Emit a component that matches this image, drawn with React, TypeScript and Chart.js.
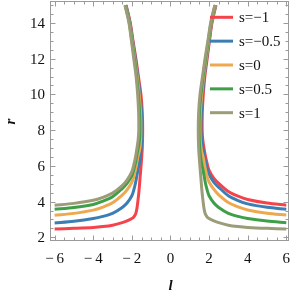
import { useEffect, useRef } from "react";
import { Chart, registerables } from "chart.js";

Chart.register(...registerables);

type P = [number, number];

const seriesLabels = ["s=\u22121", "s=\u22120.5", "s=0", "s=0.5", "s=1"];
const seriesColors = ["#f5434b", "#3b7eb4", "#eea84f", "#3e9f48", "#9c9c78"];

// left branches (l < 0): [l, r]
const leftSm1: P[] = [[-2.30,15],[-2.08,14],[-1.94,13],[-1.79,12],[-1.66,11],[-1.53,10],[-1.46,9],[-1.44,8],[-1.46,7],[-1.51,6.2],[-1.57,5.4],[-1.63,4.6],[-1.69,4.0],[-1.74,3.6],[-1.8,3.32],[-1.9,3.14],[-2.0,3.05],[-2.25,2.92],[-2.5,2.82],[-3,2.68],[-3.5,2.6],[-4,2.55],[-5,2.5],[-6,2.46]];
const leftSm05: P[] = [[-2.31,15],[-2.1,14],[-1.96,13],[-1.82,12],[-1.69,11],[-1.58,10],[-1.5,9],[-1.48,8],[-1.5,7.2],[-1.55,6.6],[-1.62,6.1],[-1.7,5.7],[-1.8,5.1],[-1.9,4.65],[-2.0,4.33],[-2.25,3.92],[-2.5,3.67],[-3,3.34],[-3.5,3.17],[-4,3.05],[-5,2.9],[-6,2.8]];
const leftS0: P[] = [[-2.33,15],[-2.12,14],[-1.98,13],[-1.85,12],[-1.72,11],[-1.62,10],[-1.55,9],[-1.53,8],[-1.56,7.2],[-1.62,6.8],[-1.7,6.45],[-1.8,5.85],[-1.9,5.4],[-2.0,5.08],[-2.25,4.65],[-2.5,4.36],[-3,3.93],[-3.5,3.69],[-4,3.52],[-5,3.34],[-6,3.23]];
const leftS05: P[] = [[-2.34,15],[-2.13,14],[-2.0,13],[-1.87,12],[-1.75,11],[-1.66,10],[-1.6,9],[-1.58,8],[-1.62,7.3],[-1.7,6.85],[-1.8,6.25],[-1.9,5.8],[-2.0,5.45],[-2.25,5.02],[-2.5,4.73],[-3,4.27],[-3.5,4.02],[-4,3.84],[-5,3.67],[-6,3.57]];
const leftS1: P[] = [[-2.36,15],[-2.15,14],[-2.02,13],[-1.9,12],[-1.78,11],[-1.7,10],[-1.65,9],[-1.64,8],[-1.67,7.5],[-1.72,7.1],[-1.8,6.55],[-1.9,6.05],[-2.0,5.68],[-2.25,5.2],[-2.5,4.9],[-3,4.48],[-3.5,4.24],[-4,4.07],[-5,3.9],[-6,3.8]];

// right branches (l > 0): [l, r]
const rightSm1: P[] = [[2.36,15],[2.15,14],[2.02,13],[1.9,12],[1.78,11],[1.7,10],[1.65,9],[1.64,8],[1.67,7.5],[1.72,7.1],[1.8,6.6],[1.9,6.12],[2.0,5.75],[2.25,5.3],[2.5,5.02],[3,4.56],[3.5,4.3],[4,4.12],[5,3.92],[6,3.8]];
const rightSm05: P[] = [[2.34,15],[2.13,14],[2.0,13],[1.87,12],[1.75,11],[1.66,10],[1.6,9],[1.58,8],[1.62,7.3],[1.7,6.88],[1.8,6.3],[1.9,5.86],[2.0,5.52],[2.25,5.08],[2.5,4.8],[3,4.33],[3.5,4.06],[4,3.87],[5,3.68],[6,3.57]];
const rightS0: P[] = [[2.33,15],[2.12,14],[1.98,13],[1.85,12],[1.72,11],[1.62,10],[1.55,9],[1.53,8],[1.56,7.2],[1.62,6.8],[1.7,6.45],[1.8,5.85],[1.9,5.4],[2.0,5.1],[2.25,4.68],[2.5,4.38],[3,3.95],[3.5,3.7],[4,3.53],[5,3.35],[6,3.25]];
const rightS05: P[] = [[2.31,15],[2.1,14],[1.96,13],[1.82,12],[1.69,11],[1.58,10],[1.5,9],[1.48,8],[1.5,7.2],[1.55,6.6],[1.62,6.1],[1.7,5.7],[1.8,5.1],[1.9,4.65],[2.0,4.33],[2.25,3.92],[2.5,3.67],[3,3.34],[3.5,3.17],[4,3.05],[5,2.91],[6,2.82]];
const rightS1: P[] = [[2.30,15],[2.08,14],[1.94,13],[1.79,12],[1.66,11],[1.53,10],[1.46,9],[1.44,8],[1.46,7],[1.51,6.2],[1.57,5.4],[1.63,4.6],[1.69,4.0],[1.74,3.6],[1.8,3.32],[1.9,3.14],[2.0,3.05],[2.25,2.92],[2.5,2.82],[3,2.68],[3.5,2.6],[4,2.55],[5,2.5],[6,2.47]];

const leftBranches = [leftSm1, leftSm05, leftS0, leftS05, leftS1];
const rightBranches = [rightSm1, rightSm05, rightS0, rightS05, rightS1];

const xTicks = [-6, -4, -2, 0, 2, 4, 6];
const yTicks = [2, 4, 6, 8, 10, 12, 14];
const xLabel = "l";
const yLabel = "r";

const FONT = '"Liberation Serif", "Times New Roman", serif';
const FRAME = "#9a9a9a";

const fmt = (v: number) => (v < 0 ? "\u2212\u2009" + Math.abs(v) : String(v));

const framePlugin = {
  id: "framePlugin",
  afterDraw(chart: any) {
    const { ctx, chartArea: a, scales } = chart;
    const xs = scales.x, ys = scales.y;
    ctx.save();
    ctx.strokeStyle = FRAME;
    ctx.lineWidth = 1;
    ctx.strokeRect(a.left + 0.5, a.top + 0.5, a.right - a.left - 1, a.bottom - a.top - 1);
    ctx.beginPath();
    for (let i = -12; i <= 12; i++) {
      const v = i / 2;
      const px = Math.round(xs.getPixelForValue(v)) + 0.5;
      if (px < a.left + 1 || px > a.right - 1) continue;
      const len = i % 4 === 0 ? 4.5 : 2.5;
      ctx.moveTo(px, a.bottom - 1);
      ctx.lineTo(px, a.bottom - 1 - len);
      ctx.moveTo(px, a.top + 1);
      ctx.lineTo(px, a.top + 1 + len);
    }
    for (let i = 4; i <= 30; i++) {
      const v = i / 2;
      const py = Math.round(ys.getPixelForValue(v)) + 0.5;
      if (py < a.top + 1 || py > a.bottom - 1) continue;
      const len = i % 4 === 0 ? 4.5 : 2.5;
      ctx.moveTo(a.left + 1, py);
      ctx.lineTo(a.left + 1 + len, py);
      ctx.moveTo(a.right - 1, py);
      ctx.lineTo(a.right - 1 - len, py);
    }
    ctx.stroke();

    // tick labels
    ctx.fillStyle = "#111";
    ctx.font = `15px ${FONT}`;
    ctx.textBaseline = "alphabetic";
    ctx.textAlign = "center";
    xTicks.forEach((v) => {
      ctx.fillText(fmt(v), xs.getPixelForValue(v), a.bottom + 21.5);
    });
    ctx.textAlign = "right";
    yTicks.forEach((v) => {
      ctx.fillText(fmt(v), a.left - 5, ys.getPixelForValue(v) + 5);
    });

    // axis titles
    ctx.font = `italic bold 15px ${FONT}`;
    ctx.textAlign = "center";
    ctx.fillText(xLabel, (a.left + a.right) / 2 + 1, a.bottom + 48.5);
    ctx.save();
    ctx.translate(15, (a.top + a.bottom) / 2 + 0.5);
    ctx.rotate(-Math.PI / 2);
    ctx.fillText(yLabel, 0, 0);
    ctx.restore();

    // legend
    const rowTop = 17.3, rowStep = 23.85;
    seriesLabels.forEach((lab, i) => {
      const y = rowTop + i * rowStep;
      ctx.strokeStyle = seriesColors[i];
      ctx.lineWidth = 3;
      ctx.beginPath();
      ctx.moveTo(210, y);
      ctx.lineTo(233, y);
      ctx.stroke();
      ctx.fillStyle = "#111";
      ctx.font = `15px ${FONT}`;
      ctx.textAlign = "left";
      ctx.fillText(lab, 239, y + 5);
    });
    ctx.restore();
  },
};

export default function App() {
  const ref = useRef<HTMLCanvasElement>(null);
  useEffect(() => {
    const datasets: any[] = [];
    seriesLabels.forEach((lab, i) => {
      [leftBranches[i], rightBranches[i]].forEach((br) => {
        datasets.push({
          label: lab,
          data: br.map(([l, r]) => ({ x: l, y: r })),
          showLine: true,
          borderColor: seriesColors[i],
          backgroundColor: seriesColors[i],
          borderWidth: 3,
          pointRadius: 0,
          tension: 0.3,
          fill: false,
          order: 5 - i,
        });
      });
    });
    const chart = new Chart(ref.current!, {
      type: "scatter",
      data: { datasets },
      options: {
        animation: false,
        responsive: false,
        devicePixelRatio: 1,
        layout: { padding: { left: 50, top: 1, right: 2, bottom: 53 } },
        plugins: { legend: { display: false }, tooltip: { enabled: false } },
        scales: {
          x: { type: "linear", display: false, min: -6.24, max: 6.14 },
          y: { type: "linear", display: false, min: 1.793, max: 15.23 },
        },
      },
      plugins: [framePlugin],
    });
    return () => chart.destroy();
  }, []);
  return (
    <div style={{ position: "fixed", left: 0, top: 0, width: 291, height: 294, background: "#fff" }}>
      <canvas ref={ref} width={291} height={294} style={{ width: 291, height: 294, display: "block" }} />
    </div>
  );
}
